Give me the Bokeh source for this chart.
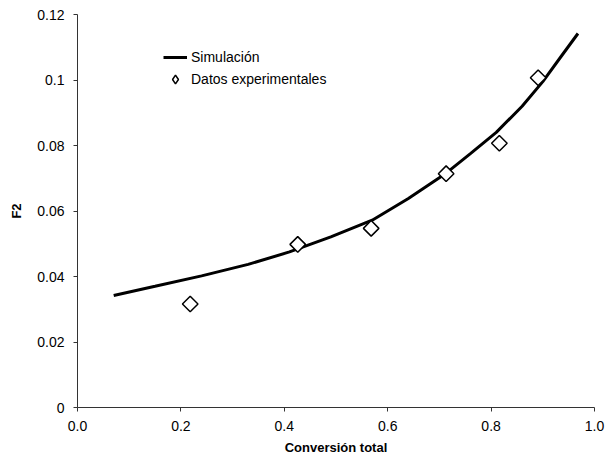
from bokeh.plotting import figure
from bokeh.models import Range1d, FixedTicker, Legend, LegendItem
from bokeh.embed import file_html
from bokeh.resources import INLINE
import math

# Simulated curve
sim_x = [0.07, 0.15, 0.24, 0.33, 0.41, 0.49, 0.57, 0.64, 0.71, 0.76, 0.81, 0.86, 0.90, 0.935, 0.968]
sim_y = [0.0342, 0.0370, 0.0402, 0.0437, 0.0475, 0.0521, 0.0572, 0.0638, 0.0712, 0.0775, 0.0840, 0.0920, 0.0995, 0.1071, 0.1142]

# Experimental data
exp_x = [0.218, 0.426, 0.568, 0.713, 0.816, 0.891]
exp_y = [0.0316, 0.0498, 0.0547, 0.0714, 0.0807, 0.1007]

x_ticks = [0.0, 0.2, 0.4, 0.6, 0.8, 1.0]
x_labels = ["0.0", "0.2", "0.4", "0.6", "0.8", "1.0"]
y_ticks = [0, 0.02, 0.04, 0.06, 0.08, 0.10, 0.12]
y_labels = ["0", "0.02", "0.04", "0.06", "0.08", "0.1", "0.12"]

p = figure(width=606, height=464, output_backend="svg", toolbar_location=None,
           x_range=Range1d(0, 1.0), y_range=Range1d(0, 0.12),
           min_border_left=77, min_border_right=12, min_border_top=14, min_border_bottom=57)
p.outline_line_color = None
p.grid.visible = False
p.background_fill_color = "white"
p.border_fill_color = "white"

font = "Liberation Sans"
for ax in (p.xaxis[0], p.yaxis[0]):
    ax.axis_line_color = "#333333"
    ax.major_tick_line_color = "#333333"
    ax.major_tick_out = 4
    ax.major_tick_in = 0
    ax.minor_tick_line_color = None
    ax.major_label_text_font = font
    ax.major_label_text_font_size = "14px"
    ax.major_label_text_color = "black"
    ax.axis_label_text_font = font
    ax.axis_label_text_font_style = "bold"
    ax.axis_label_text_font_size = "13px"
    ax.axis_label_text_color = "black"
    ax.major_label_standoff = 9

p.xaxis.ticker = FixedTicker(ticks=x_ticks)
p.xaxis.major_label_overrides = {t: l for t, l in zip(x_ticks, x_labels)}
p.yaxis.ticker = FixedTicker(ticks=y_ticks)
p.yaxis.major_label_overrides = {t: l for t, l in zip(y_ticks, y_labels)}
p.xaxis.axis_label = "Conversión total"
p.yaxis.axis_label = "F2"
p.xaxis.axis_label_standoff = 6
p.yaxis.axis_label_standoff = 10

r_line = p.line(sim_x, sim_y, line_color="black", line_width=3)
r_pts = p.scatter(exp_x, exp_y, marker="square", size=11, angle=math.pi / 4,
                  line_color="black", line_width=1.5, fill_color="white")
# legend-only marker (legend glyphs are never rotated); NaN so nothing shows in the plot
r_leg = p.scatter(x=[float("nan")], y=[float("nan")], marker="diamond", size=11,
                  line_color="black", line_width=1.5, fill_color="white")

legend = Legend(items=[LegendItem(label="Simulación", renderers=[r_line]),
                       LegendItem(label="Datos experimentales", renderers=[r_leg])],
                location=(86, 317), padding=0, margin=0, spacing=0,
                glyph_width=24, glyph_height=22, label_standoff=4,
                border_line_color=None, background_fill_alpha=0,
                label_text_font=font, label_text_font_size="14px", label_text_color="black")
p.add_layout(legend)

open("out.html", "w").write(file_html(p, INLINE))
